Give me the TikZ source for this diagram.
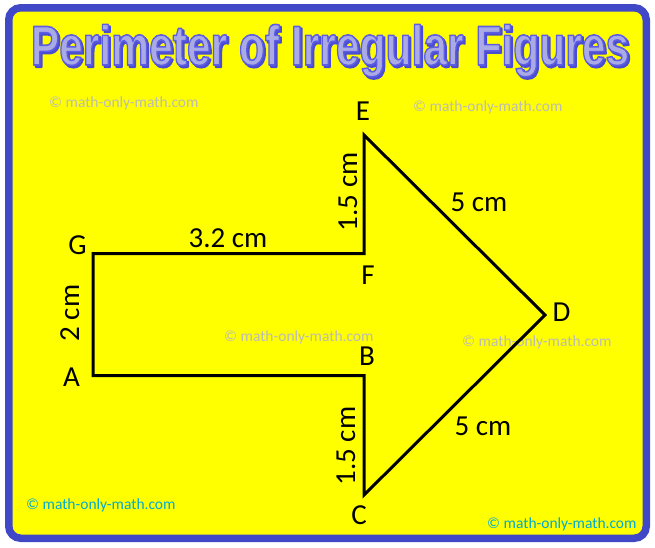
\documentclass[tikz,border=0pt]{standalone}
\usepackage{fontspec}
\setmainfont{Carlito}
\newfontfamily\titlefont{Liberation Sans}
\usepackage{graphicx}
\definecolor{frameblue}{RGB}{64,72,200}
\definecolor{bgyellow}{RGB}{255,255,0}
\definecolor{titlefill}{RGB}{170,170,228}
\definecolor{shadowblue}{RGB}{80,80,210}
\definecolor{wmgray}{RGB}{188,188,180}
\definecolor{wmcyan}{RGB}{0,170,210}
\newcommand{\strokedtext}[3]{{\special{pdf:literal direct #1 RG #2 w 1 j 2 Tr}#3\special{pdf:literal direct 0 Tr}}}
\newcommand{\titletext}{Perimeter of Irregular Figures}
\begin{document}
\begin{tikzpicture}[x=1pt,y=-1pt,
  lbl/.style={font=\fontsize{29}{30}\selectfont, inner sep=0pt, anchor=base},
  wm/.style={font=\fontsize{15.5}{16}\selectfont, inner sep=0pt, anchor=west},
  titlestyle/.style={inner sep=0pt, anchor=base}]
\useasboundingbox (0,0) rectangle (655,547);
\fill[white] (0,0) rectangle (655,547);
% frame
\draw[frameblue, line width=7.5pt, fill=bgyellow, rounded corners=12pt] (8.75,7.75) rectangle (646.25,538.25);
% title shadow and title
\node[titlestyle, text=shadowblue] (titleshadow) at (332,67)
  {\titlefont\bfseries\fontsize{56}{60}\selectfont\scalebox{0.76}[1]{\strokedtext{0.30 0.30 0.82}{2.0}{\titletext}}};
\node[titlestyle, text=titlefill] (title) at (330,65)
  {\titlefont\bfseries\fontsize{56}{60}\selectfont\scalebox{0.76}[1]{\strokedtext{0.36 0.36 0.90}{1.6}{\titletext}}};
% watermarks
\node[wm, text=wmgray] (wm1) at (49,103) {© math-only-math.com};
\node[wm, text=wmgray] (wm2) at (413,107) {© math-only-math.com};
\node[wm, text=wmgray] (wm3) at (224,337) {© math-only-math.com};
\node[wm, text=wmgray] (wm4) at (462,342) {© math-only-math.com};
\node[wm, text=wmcyan] (wm5) at (26,505) {© math-only-math.com};
\node[wm, text=wmcyan] (wm6) at (487,524.5) {© math-only-math.com};
% figure
\coordinate (A) at (93,375.5);
\coordinate (B) at (364,375.5);
\coordinate (C) at (364,495);
\coordinate (D) at (545,315);
\coordinate (E) at (364,135);
\coordinate (F) at (364,253.5);
\coordinate (G) at (93,253.5);
\draw[line width=3pt, line join=miter] (A) -- (B) -- (C) -- (D) -- (E) -- (F) -- (G) -- cycle;
% vertex labels
\node[lbl] (lE) at (363,120) {E};
\node[lbl] (lF) at (368,284) {F};
\node[lbl] (lG) at (77.5,254) {G};
\node[lbl] (lA) at (71.5,386) {A};
\node[lbl] (lB) at (367,365) {B};
\node[lbl] (lC) at (359,524.5) {C};
\node[lbl] (lD) at (561.5,321.5) {D};
% measures
\node[lbl] (mGF) at (228,247) {3.2 cm};
\node[lbl] (mED) at (479,211.7) {5 cm};
\node[lbl] (mDC) at (483,435) {5 cm};
\node[lbl, rotate=90] (mEF) at (357,191.7) {1.5 cm};
\node[lbl, rotate=90] (mBC) at (355,446) {1.5 cm};
\node[lbl, rotate=90] (mGA) at (79,313) {2 cm};
\end{tikzpicture}
\end{document}
